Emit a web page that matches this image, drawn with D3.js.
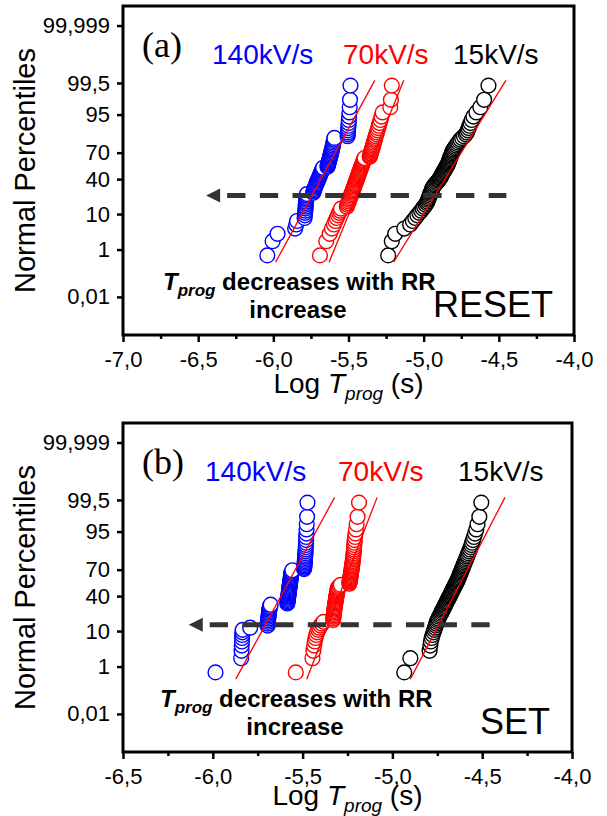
<!DOCTYPE html>
<html>
<head>
<meta charset="utf-8">
<script src="https://cdn.jsdelivr.net/npm/d3@7"></script>
<style>
  body { margin: 0; background: #fff; }
  svg text { font-family: "Liberation Sans", Arial, sans-serif; fill: #000; }
</style>
</head>
<body>
<script>
// normal plotting positions (%), same for every series (80 pulses each)
var percentiles = [0.625, 1.875, 3.125, 4.375, 5.625, 6.875, 8.125, 9.375, 10.625, 11.875,
  13.125, 14.375, 15.625, 16.875, 18.125, 19.375, 20.625, 21.875, 23.125, 24.375,
  25.625, 26.875, 28.125, 29.375, 30.625, 31.875, 33.125, 34.375, 35.625, 36.875,
  38.125, 39.375, 40.625, 41.875, 43.125, 44.375, 45.625, 46.875, 48.125, 49.375,
  50.625, 51.875, 53.125, 54.375, 55.625, 56.875, 58.125, 59.375, 60.625, 61.875,
  63.125, 64.375, 65.625, 66.875, 68.125, 69.375, 70.625, 71.875, 73.125, 74.375,
  75.625, 76.875, 78.125, 79.375, 80.625, 81.875, 83.125, 84.375, 85.625, 86.875,
  88.125, 89.375, 90.625, 91.875, 93.125, 94.375, 95.625, 96.875, 98.125, 99.375];

// log Tprog (s), RESET
var resetBlue = [-6.040, -6.005, -5.972, -5.855, -5.848, -5.842,
  -5.792, -5.790, -5.789, -5.787, -5.786, -5.785, -5.784, -5.783, -5.782, -5.781, -5.780, -5.779, -5.778, -5.776,
  -5.735, -5.732, -5.729, -5.727, -5.723, -5.720, -5.718, -5.714, -5.711, -5.708, -5.705, -5.702, -5.700, -5.696,
  -5.693, -5.690, -5.687, -5.684, -5.681, -5.678, -5.675, -5.672, -5.669,
  -5.640, -5.638, -5.636, -5.634, -5.632, -5.630, -5.628, -5.626, -5.624, -5.622, -5.620, -5.618, -5.616, -5.614,
  -5.612, -5.610, -5.608, -5.606, -5.604, -5.602, -5.600, -5.598, -5.596, -5.594,
  -5.506, -5.505, -5.504, -5.503, -5.502, -5.500, -5.499, -5.498, -5.496, -5.494, -5.492, -5.490, -5.487];
var resetRed = [-5.690, -5.648, -5.625, -5.610, -5.597, -5.587, -5.578, -5.570, -5.563, -5.556, -5.550,
  -5.511, -5.507, -5.503, -5.498, -5.495, -5.491, -5.487, -5.484, -5.481, -5.477,
  -5.474, -5.471, -5.468, -5.465, -5.462, -5.459, -5.457, -5.454, -5.451, -5.448,
  -5.446, -5.443, -5.441, -5.438, -5.435, -5.433, -5.430, -5.428, -5.425, -5.422,
  -5.420, -5.417, -5.415, -5.412, -5.409, -5.407, -5.404, -5.401, -5.399, -5.396, -5.393,
  -5.359, -5.356, -5.354, -5.352, -5.349, -5.347, -5.344, -5.342, -5.339, -5.337,
  -5.334, -5.331, -5.328, -5.325, -5.322, -5.319, -5.315, -5.311, -5.307, -5.303,
  -5.298, -5.293, -5.287, -5.281, -5.273, -5.222, -5.218, -5.212];
var resetBlack = [-5.236, -5.212, -5.189, -5.129, -5.090, -5.072, -5.056, -5.042, -5.029, -5.017, -5.007, -4.997, -4.987,
  -4.980, -4.975, -4.971, -4.967, -4.963, -4.960, -4.956, -4.953, -4.949, -4.946, -4.943, -4.940,
  -4.935, -4.929, -4.923, -4.916, -4.910, -4.904, -4.898,
  -4.893, -4.889, -4.885, -4.881, -4.877, -4.873, -4.869, -4.865, -4.861, -4.857, -4.853, -4.849, -4.845, -4.841,
  -4.838, -4.835, -4.832, -4.829, -4.827, -4.824, -4.821, -4.818, -4.815, -4.812, -4.809, -4.806,
  -4.801, -4.795, -4.789, -4.783, -4.777, -4.770, -4.763,
  -4.755, -4.744, -4.732, -4.720, -4.713, -4.707, -4.701, -4.695, -4.688, -4.680,
  -4.669, -4.649, -4.623, -4.598, -4.569];

// log Tprog (s), SET
var setBlue = [-5.985, -5.842, -5.840, -5.839, -5.838, -5.837, -5.836, -5.835, -5.834, -5.792,
  -5.695, -5.694, -5.693, -5.692, -5.691, -5.690, -5.689, -5.688, -5.687, -5.686, -5.685, -5.684, -5.683, -5.681, -5.678,
  -5.585, -5.584, -5.583, -5.583, -5.582, -5.581, -5.580, -5.579, -5.578, -5.578,
  -5.577, -5.576, -5.575, -5.574, -5.574, -5.573, -5.572, -5.571, -5.570, -5.570,
  -5.569, -5.568, -5.567, -5.566, -5.566, -5.565, -5.564, -5.563, -5.562, -5.560, -5.557,
  -5.492, -5.491, -5.490, -5.490, -5.489, -5.488, -5.488, -5.487, -5.486, -5.486,
  -5.485, -5.484, -5.484, -5.483, -5.482, -5.482, -5.481, -5.480, -5.480, -5.479,
  -5.478, -5.477, -5.475, -5.473];
var setRed = [-5.538, -5.445, -5.440, -5.436, -5.432, -5.428, -5.424, -5.419, -5.413, -5.407, -5.400, -5.392, -5.383,
  -5.330, -5.329, -5.328, -5.327, -5.326, -5.325, -5.324, -5.323, -5.322, -5.321,
  -5.320, -5.319, -5.318, -5.317, -5.316, -5.315, -5.314, -5.313, -5.312, -5.311,
  -5.310, -5.309, -5.308, -5.307, -5.306, -5.305, -5.303, -5.300, -5.294, -5.288,
  -5.240, -5.239, -5.238, -5.237, -5.236, -5.235, -5.234, -5.233, -5.232, -5.231,
  -5.230, -5.229, -5.228, -5.227, -5.226, -5.225, -5.224, -5.223, -5.222, -5.221,
  -5.220, -5.219, -5.218, -5.217, -5.216, -5.215, -5.214, -5.213, -5.212, -5.211,
  -5.210, -5.208, -5.206, -5.203, -5.199, -5.194, -5.186];
var setBlack = [-4.934, -4.900, -4.793, -4.789, -4.786, -4.781, -4.776, -4.771, -4.767, -4.762, -4.759, -4.755, -4.752, -4.748,
  -4.744, -4.740, -4.735, -4.731, -4.727, -4.723, -4.720, -4.716, -4.712, -4.709, -4.706, -4.702, -4.699, -4.696, -4.692,
  -4.689, -4.686, -4.683, -4.680, -4.677, -4.674, -4.671, -4.668, -4.665, -4.662, -4.659, -4.656, -4.653, -4.650,
  -4.647, -4.644, -4.641, -4.638,
  -4.635, -4.633, -4.630, -4.628, -4.625, -4.623, -4.620, -4.617, -4.615, -4.612, -4.609, -4.607, -4.604, -4.601,
  -4.598, -4.594, -4.591, -4.588, -4.584, -4.581, -4.577, -4.573, -4.568, -4.564,
  -4.560, -4.556, -4.551, -4.546, -4.540, -4.533, -4.526, -4.516, -4.505];

// normal fits, log T at the two end percentiles
var fitPct = [0.35, 99.6];
var resetFits = [[-5.985, -5.325], [-5.629, -5.132], [-5.200, -4.453]];
var setFits = [[-5.872, -5.322], [-5.477, -5.085], [-4.900, -4.373]];

var rates = ["140kV/s", "70kV/s", "15kV/s"];
var colors = ["#0000ff", "#ff0000", "#000000"];
var yTicks = [0.01, 1, 10, 40, 70, 95, 99.5, 99.999];
var yTickLabels = ["0,01", "1", "10", "40", "70", "95", "99,5", "99,999"];
var resetXTicks = [-7, -6.5, -6, -5.5, -5, -4.5, -4];
var setXTicks = [-6.5, -6, -5.5, -5, -4.5, -4];

// inverse normal cdf (Acklam)
function probit(p) {
  var a = [-3.969683028665376e+01, 2.209460984245205e+02, -2.759285104469687e+02, 1.383577518672690e+02, -3.066479806614716e+01, 2.506628277459239e+00];
  var b = [-5.447609879822406e+01, 1.615858368580409e+02, -1.556989798598866e+02, 6.680131188771972e+01, -1.328068155288572e+01];
  var c = [-7.784894002430293e-03, -3.223964580411365e-01, -2.400758277161838e+00, -2.549732539343734e+00, 4.374664141464968e+00, 2.938163982698783e+00];
  var d = [7.784695709041462e-03, 3.224671290700398e-01, 2.445134137142996e+00, 3.754408661907416e+00];
  var q, r;
  if (p < 0.02425) {
    q = Math.sqrt(-2 * Math.log(p));
    return (((((c[0]*q+c[1])*q+c[2])*q+c[3])*q+c[4])*q+c[5]) / ((((d[0]*q+d[1])*q+d[2])*q+d[3])*q+1);
  }
  if (p > 1 - 0.02425) {
    q = Math.sqrt(-2 * Math.log(1 - p));
    return -(((((c[0]*q+c[1])*q+c[2])*q+c[3])*q+c[4])*q+c[5]) / ((((d[0]*q+d[1])*q+d[2])*q+d[3])*q+1);
  }
  q = p - 0.5; r = q * q;
  return (((((a[0]*r+a[1])*r+a[2])*r+a[3])*r+a[4])*r+a[5])*q / (((((b[0]*r+b[1])*r+b[2])*r+b[3])*r+b[4])*r+1);
}

var svg = d3.select("body").append("svg")
    .attr("width", 607)
    .attr("height", 816);

var plotH = 329;
var panels = [
  { left: 123, top: 6, width: 451, xDomain: [-7, -4], xTicks: resetXTicks,
    series: [resetBlue, resetRed, resetBlack], fits: resetFits, letter: "(a)", mode: "RESET",
    legendX: [89, 220, 330], arrow: [-4.45, -6.447, 23.2], noteX: 40, modeX: 430, titleDy: 58 },
  { left: 123, top: 423, width: 449, xDomain: [-6.5, -4], xTicks: setXTicks,
    series: [setBlue, setRed, setBlack], fits: setFits, letter: "(b)", mode: "SET",
    legendX: [82, 215, 335], arrow: [-4.45, -6.134, 13.6], noteX: 37, modeX: 427, titleDy: 53 }
];

panels.forEach(function (p) {
  var g = svg.append("g").attr("transform", "translate(" + p.left + "," + p.top + ")");
  var x = d3.scaleLinear().domain(p.xDomain).range([0, p.width]);
  var z = d3.scaleLinear().domain([-4.84, 4.84]).range([plotH, 0]);
  var y = function (pct) { return z(probit(pct / 100)); };

  // axes
  var yAxis = d3.axisLeft(z)
      .tickValues(yTicks.map(function (t) { return probit(t / 100); }))
      .tickFormat(function (d, i) { return yTickLabels[i]; })
      .tickSize(6).tickPadding(7);
  var ya = g.append("g").call(yAxis);

  var xAxis = d3.axisBottom(x)
      .tickValues(p.xTicks)
      .tickFormat(function (d) { return d3.format(".1f")(d).replace(".", ",").replace("−", "-"); })
      .tickSize(7).tickPadding(9);
  var xa = g.append("g").attr("transform", "translate(0," + plotH + ")").call(xAxis);

  var minor = p.xTicks.slice(1).map(function (t) { return t - 0.25; });
  var xm = g.append("g").attr("transform", "translate(0," + plotH + ")")
      .call(d3.axisBottom(x).tickValues(minor).tickSize(4).tickFormat(""));

  [ya, xa, xm].forEach(function (a) {
    a.select(".domain").remove();
    a.selectAll("line").attr("stroke", "#000").attr("stroke-width", 2.5);
    a.selectAll("text").style("font-size", "22px").style("font-family", "Liberation Sans, Arial, sans-serif");
  });

  // data
  p.series.forEach(function (s, si) {
    g.append("g").selectAll("circle")
      .data(s)
      .enter().append("circle")
      .attr("cx", function (d) { return x(d); })
      .attr("cy", function (d, i) { return y(percentiles[i]); })
      .attr("r", 7.4)
      .attr("fill", "#fff")
      .attr("stroke", colors[si])
      .attr("stroke-width", 1.4);
  });

  p.fits.forEach(function (f) {
    g.append("line")
      .attr("x1", x(f[0])).attr("y1", y(fitPct[0]))
      .attr("x2", x(f[1])).attr("y2", y(fitPct[1]))
      .attr("stroke", "#ff0000").attr("stroke-width", 1.3);
  });

  // dashed arrow
  var ay = y(p.arrow[2]), tip = x(p.arrow[1]);
  g.append("line")
    .attr("x1", tip + 21).attr("x2", x(p.arrow[0]))
    .attr("y1", ay).attr("y2", ay)
    .attr("stroke", "#333").attr("stroke-width", 5)
    .attr("stroke-dasharray", "18.3,14.4");
  g.append("path")
    .attr("d", "M" + tip + "," + ay + "L" + (tip + 14) + "," + (ay - 7) + "L" + (tip + 14) + "," + (ay + 7) + "Z")
    .attr("fill", "#333");

  // frame
  g.append("rect").attr("width", p.width).attr("height", plotH)
    .attr("fill", "none").attr("stroke", "#000").attr("stroke-width", 3);

  // texts
  g.append("text").attr("x", 19).attr("y", 51)
    .style("font-family", "Liberation Serif, Times New Roman, serif").style("font-size", "36px")
    .text(p.letter);

  rates.forEach(function (r, i) {
    g.append("text").attr("x", p.legendX[i]).attr("y", 58)
      .style("font-size", "28px").style("fill", colors[i]).text(r);
  });

  var note = g.append("text").attr("x", p.noteX).attr("y", 284)
    .style("font-size", "24px").style("font-weight", "bold");
  note.append("tspan").style("font-style", "italic").text("T");
  note.append("tspan").style("font-style", "italic").style("font-size", "17px").attr("dy", 6).text("prog");
  note.append("tspan").attr("dy", -6).text(" decreases with RR");
  g.append("text").attr("x", p.noteX + 135).attr("y", 312).attr("text-anchor", "middle")
    .style("font-size", "24px").style("font-weight", "bold").text("increase");

  g.append("text").attr("x", p.modeX).attr("y", 311).attr("text-anchor", "end")
    .style("font-size", "36px").text(p.mode);

  var xl = g.append("text").attr("x", p.width / 2).attr("y", plotH + p.titleDy)
    .attr("text-anchor", "middle").style("font-size", "28px");
  xl.append("tspan").text("Log ");
  xl.append("tspan").style("font-style", "italic").text("T");
  xl.append("tspan").style("font-style", "italic").style("font-size", "19px").attr("dy", 7).text("prog");
  xl.append("tspan").attr("dy", -7).text(" (s)");

  g.append("text")
    .attr("transform", "translate(" + (35 - p.left) + "," + (plotH / 2) + ") rotate(-90)")
    .attr("text-anchor", "middle").style("font-size", "29px")
    .text("Normal Percentiles");
});
</script>
</body>
</html>
